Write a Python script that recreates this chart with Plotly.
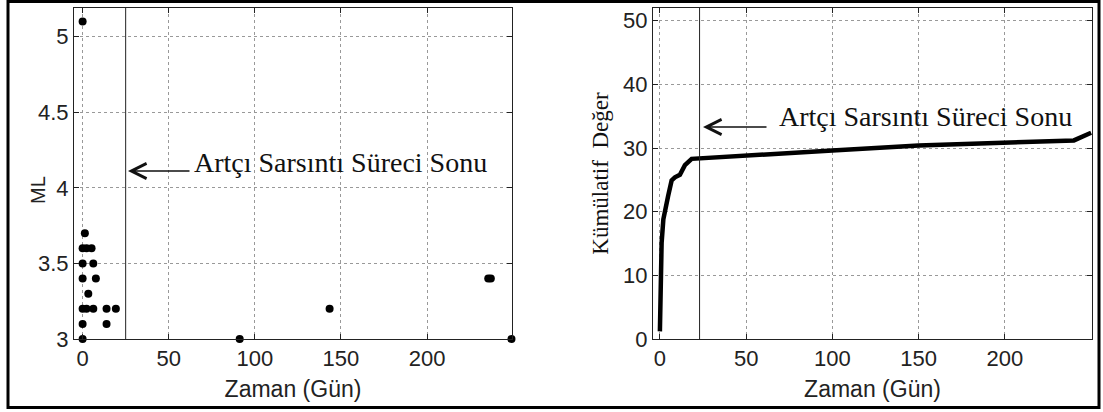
import plotly.graph_objects as go

# ---- data ----
ml_days = [0, 1.3, 0, 2.3, 5.2, 0, 6.2, 0, 7.7, 3.3, 0, 2.3, 6.2, 13.9, 19.3, 0, 13.9, 0,
           91.2, 143.4, 235.5, 237, 249]
ml_vals = [5.1, 3.7, 3.6, 3.6, 3.6, 3.5, 3.5, 3.4, 3.4, 3.3, 3.2, 3.2, 3.2, 3.2, 3.2, 3.1, 3.1, 3.0,
           3.0, 3.2, 3.4, 3.4, 3.0]

cum_days = [0, 0.3, 1, 2, 3, 4.8, 6.8, 8.7, 11.6, 13.5, 14.5, 18.4, 24, 50, 100, 150, 200, 240, 250]
cum_vals = [1.2, 8.2, 15.1, 18.8, 20.4, 22.5, 24.9, 25.4, 25.8, 26.7, 27.3, 28.3, 28.4, 28.7,
            29.6, 30.4, 30.8, 31.2, 32.4]

end_day_left = 25
end_day_right = 23

x_ticks = [0, 50, 100, 150, 200]
ml_ticks = [3, 3.5, 4, 4.5, 5]
cum_ticks = [0, 10, 20, 30, 40, 50]

label_text = "Artçı Sarsıntı Süreci Sonu"
x_title = "Zaman (Gün)"

W, H = 1103, 412

fig = go.Figure()

fig.add_trace(go.Scatter(x=ml_days, y=ml_vals, mode="markers",
                         marker=dict(color="black", size=8), cliponaxis=False,
                         xaxis="x", yaxis="y", showlegend=False))
fig.add_trace(go.Scatter(x=[end_day_left, end_day_left], y=[3, 5.19], mode="lines",
                         line=dict(color="#222", width=1),
                         xaxis="x", yaxis="y", showlegend=False))

fig.add_trace(go.Scatter(x=cum_days, y=cum_vals, mode="lines",
                         line=dict(color="black", width=4.5),
                         xaxis="x2", yaxis="y2", showlegend=False))
fig.add_trace(go.Scatter(x=[end_day_right, end_day_right], y=[0, 52], mode="lines",
                         line=dict(color="#222", width=1),
                         xaxis="x2", yaxis="y2", showlegend=False))

tickfont = dict(family="Liberation Sans, Arial", size=22, color="#222")
axis_common = dict(showline=True, linecolor="#222", linewidth=1, mirror="ticks",
                   ticks="inside", ticklen=5, tickcolor="#222",
                   showgrid=True, gridcolor="#999", griddash="dot", gridwidth=1,
                   zeroline=False, tickfont=tickfont, automargin=False)

ydom = [1 - 339 / H, 1 - 8 / H]

fig.update_layout(
    width=W, height=H,
    margin=dict(l=0, r=0, t=0, b=0),
    paper_bgcolor="white", plot_bgcolor="white",
    xaxis=dict(domain=[74 / W, 512 / W], range=[-5, 249.3], tickvals=x_ticks,
               title=dict(text=x_title, font=dict(family="Liberation Sans, Arial", size=23, color="#222"),
                          standoff=10),
               anchor="y", **axis_common),
    yaxis=dict(domain=ydom, range=[3, 5.19], tickvals=ml_ticks, ticktext=["3", "3.5", "4", "4.5", "5"],
               anchor="x", **axis_common),
    xaxis2=dict(domain=[653 / W, 1092 / W], range=[-4, 250.5], tickvals=x_ticks,
                title=dict(text=x_title, font=dict(family="Liberation Sans, Arial", size=23, color="#222"),
                           standoff=10),
                anchor="y2", **axis_common),
    yaxis2=dict(domain=ydom, range=[0, 52], tickvals=cum_ticks,
                title=dict(text="Kümülatif  Değer",
                           font=dict(family="Liberation Serif, Times New Roman", size=23, color="#111"),
                           standoff=8),
                anchor="x2", **axis_common),
    shapes=[dict(type="rect", xref="paper", yref="paper",
                 x0=8 / W, x1=1099 / W, y0=1 - 407.5 / H, y1=1 - 1.5 / H,
                 line=dict(color="black", width=3), fillcolor="rgba(0,0,0,0)")],
)

# left y-axis title
fig.add_annotation(xref="paper", yref="paper", x=38 / W, y=1 - 190 / H,
                   xanchor="center", yanchor="middle", text="ML", textangle=-90, showarrow=False,
                   font=dict(family="Liberation Sans, Arial", size=20, color="#222"))

serif = dict(family="Liberation Serif, Times New Roman", size=28, color="#111")

# text labels
fig.add_annotation(xref="paper", yref="paper", x=192 / W, y=1 - 163 / H,
                   xanchor="left", yanchor="middle", text=label_text, showarrow=False, font=serif)
fig.add_annotation(xref="paper", yref="paper", x=777 / W, y=1 - 116 / H,
                   xanchor="left", yanchor="middle", text=label_text, showarrow=False, font=serif)

# arrows
fig.add_annotation(xref="paper", yref="paper", x=128 / W, y=1 - 171 / H, text="",
                   showarrow=True, arrowhead=5, arrowsize=2, arrowwidth=1.5, arrowcolor="#111",
                   ax=63, ay=0, axref="pixel", ayref="pixel")
fig.add_annotation(xref="paper", yref="paper", x=703 / W, y=1 - 127 / H, text="",
                   showarrow=True, arrowhead=5, arrowsize=2, arrowwidth=1.5, arrowcolor="#111",
                   ax=65, ay=0, axref="pixel", ayref="pixel")

fig.write_html("out.html")
